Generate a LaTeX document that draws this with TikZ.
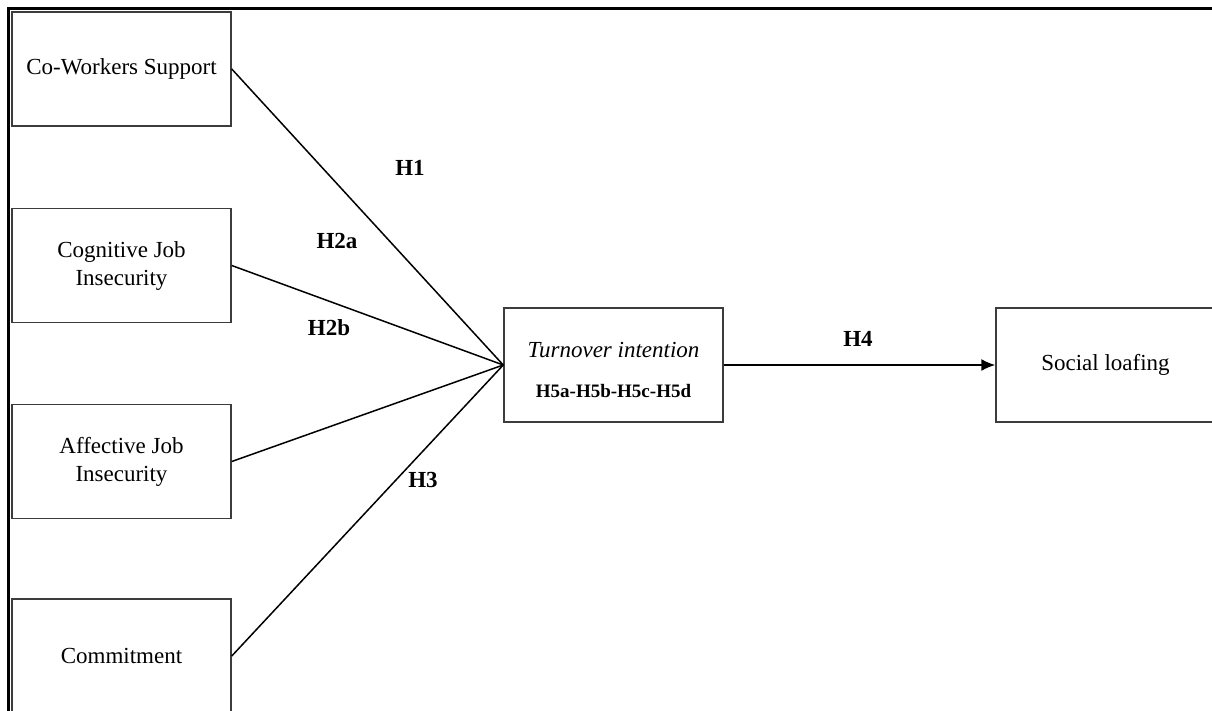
\documentclass[tikz,border=0pt]{standalone}
\usepackage{fontspec}
\setmainfont{Liberation Serif}
\usetikzlibrary{arrows.meta}

\tikzset{every picture/.style={line width=1.5pt}}
\tikzset{
  varbox/.style={draw={rgb,255:red,60;green,60;blue,60}, line width=1.5pt, minimum width=219pt, minimum height=114pt, inner sep=0pt, align=center, font=\fontsize{23}{28}\selectfont},
  hlabel/.style={anchor=center, font=\fontsize{23}{27}\selectfont\bfseries},
  link/.style={line width=1.5pt}
}

\begin{document}
\begin{tikzpicture}[x=1pt,y=1pt,yscale=-1,xscale=1]
\useasboundingbox (0,0) rectangle (1212,710);

%% ---------------- outer frame ----------------
\draw [line width=3pt] (8,730) -- (8,8) -- (1230,8) ;

%% ---------------- predictors ----------------
\node [varbox] (cws) at (121.5,69) {Co-Workers Support};
\node [varbox] (cji) at (121.5,265.5) {Cognitive Job\\Insecurity};
\node [varbox] (aji) at (121.5,461.5) {Affective Job\\Insecurity};
\node [varbox] (com) at (121.5,656) {Commitment};

%% ---------------- mediator and outcome ----------------
\node [varbox] (ti) at (613.5,365) {};
\node [varbox] (sl) at (1105.5,365) {Social loafing};

\draw (613.5,350) node [anchor=center, font=\fontsize{23}{27}\selectfont\itshape] {Turnover intention};
\draw (613.5,391) node [anchor=center, font=\fontsize{19}{22}\selectfont\bfseries] {H5a-H5b-H5c-H5d};

%% ---------------- paths ----------------
\draw [link] (cws.east) -- (ti.west) ;
\draw [link] (cji.east) -- (ti.west) ;
\draw [link] (aji.east) -- (ti.west) ;
\draw [link] (com.east) -- (ti.west) ;
\draw [link, -{Latex[length=14pt,width=12pt]}] (ti.east) -- (sl.west) ;

%% ---------------- hypotheses ----------------
\draw (410,168) node [hlabel] {H1};
\draw (337,241) node [hlabel] {H2a};
\draw (329,328) node [hlabel] {H2b};
\draw (423,480) node [hlabel] {H3};
\draw (858,339) node [hlabel] {H4};

\end{tikzpicture}
\end{document}
